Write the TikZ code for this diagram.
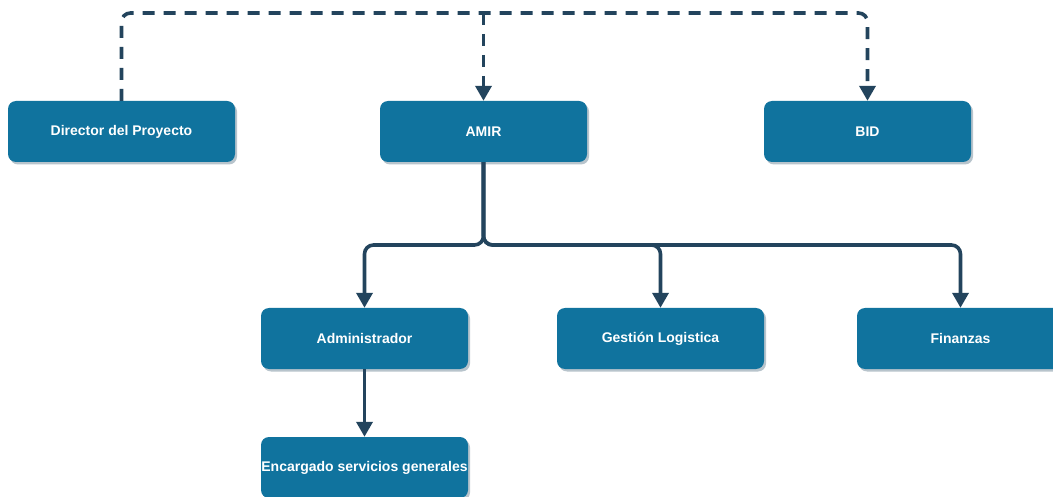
\documentclass[tikz,border=0pt]{standalone}
\usepackage{fontspec}
\setmainfont{Liberation Sans}
\usetikzlibrary{arrows.meta,shadows}
\definecolor{boxblue}{HTML}{10739E}
\definecolor{linenavy}{HTML}{23445D}
\definecolor{shadowgrey}{HTML}{B8C4CC}
\tikzset{
  orgbox/.style={draw=none, fill=boxblue, rounded corners=8pt, minimum height=61pt,
    inner sep=0pt, text=white, font=\bfseries\fontsize{14}{16}\selectfont,
    drop shadow={shadow xshift=2pt, shadow yshift=-2.5pt, fill=shadowgrey, opacity=1}},
  conn/.style={draw=linenavy, line width=3.6pt, rounded corners=9pt,
    -{Triangle[width=16pt,length=15pt]}},
  dashconn/.style={conn, dash pattern=on 12pt off 9pt}
}
\begin{document}
\begin{tikzpicture}[x=1pt,y=-1pt]
\clip (0,0) rectangle (1053,497);
\fill[white] (0,0) rectangle (1053,497);
\node[orgbox, minimum width=227pt] (dir) at (121.5,131.5) {Director del Proyecto};
\node[orgbox, minimum width=207pt] (amir) at (483.5,131.5) {AMIR};
\node[orgbox, minimum width=207pt] (bid) at (867.5,131.5) {BID};
\node[orgbox, minimum width=207pt] (adm) at (364.5,338.5) {Administrador};
\node[orgbox, minimum width=207pt] (gest) at (660.5,338.5) {Gestión Logistica};
\node[orgbox, minimum width=207pt] (fin) at (960.5,338.5) {Finanzas};
\node[orgbox, minimum width=207pt] (enc) at (364.5,467.5) {Encargado servicios generales};
\coordinate (tl) at (121.5,13);
\coordinate (tm) at (483.5,13);
\coordinate (tr) at (867.5,13);
\coordinate (bus) at (483.5,245);
\draw[dashconn] (dir.north) -- (tl) -- (tr) -- (bid.north);
\draw[dashconn] (tm) -- (amir.north);
\draw[conn] (amir.south) -- (bus) -| (adm.north);
\draw[conn] (amir.south) -- (bus) -| (gest.north);
\draw[conn] (amir.south) -- (bus) -| (fin.north);
\draw[conn] (adm.south) -- (enc.north);
\end{tikzpicture}
\end{document}
